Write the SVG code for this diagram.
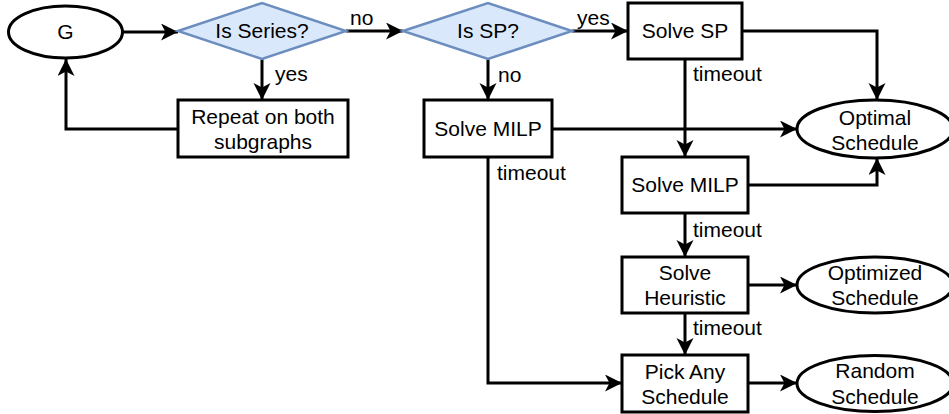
<svg xmlns="http://www.w3.org/2000/svg" width="949" height="414" viewBox="0 0 949 414">
<style>
text{font-family:"Liberation Sans",Arial,sans-serif;font-size:21px;fill:#000;}
.c{text-anchor:middle;}
.box{fill:#fff;stroke:#000;stroke-width:3;}
.dia{fill:#dae8fc;stroke:#6c8ebf;stroke-width:2.5;}
.ln{fill:none;stroke:#000;stroke-width:3;}
.arr{marker-end:url(#ah);}
</style>
<defs>
<marker id="ah" markerUnits="userSpaceOnUse" markerWidth="18" markerHeight="18" refX="17" refY="8.5" orient="auto" viewBox="0 0 18 18">
<path d="M0,0 L17,8.5 L0,17 L4.5,8.5 Z" fill="#000"/>
</marker>
</defs>
<rect width="949" height="414" fill="#fff"/>
<g id="connectors">
<path class="ln arr" d="M123,32 L178,32"/>
<path class="ln arr" d="M346,31 L403,31"/>
<text x="350" y="25">no</text>
<path class="ln arr" d="M262,59 L262,100"/>
<text x="275" y="81">yes</text>
<path class="ln arr" d="M178,129 L66,129 L66,59"/>
<path class="ln arr" d="M572,31 L628,31"/>
<text x="577" y="25">yes</text>
<path class="ln arr" d="M488,59 L488,100"/>
<text x="498" y="82">no</text>
<path class="ln arr" d="M552,129 L797,129"/>
<path class="ln arr" d="M742,31 L877,31 L877,100"/>
<path class="ln arr" d="M685,59 L685,157"/>
<text x="693" y="81">timeout</text>
<path class="ln arr" d="M748,185 L877,185 L877,158"/>
<path class="ln arr" d="M488,157 L488,383 L622,383"/>
<text x="497" y="180">timeout</text>
<path class="ln arr" d="M685,213 L685,257"/>
<text x="693" y="237">timeout</text>
<path class="ln arr" d="M748,285 L797,285"/>
<path class="ln arr" d="M685,313 L685,355"/>
<text x="693" y="335">timeout</text>
<path class="ln arr" d="M748,383 L797,383"/>
</g>
<g id="G"><ellipse class="box" cx="65.5" cy="32" rx="57" ry="26"/><text class="c" x="65.5" y="39">G</text></g>
<g id="isSeries"><polygon class="dia" points="178,31 262,3 346,31 262,59"/><text class="c" x="262" y="38">Is Series?</text></g>
<g id="repeat"><rect class="box" x="178" y="100" width="170" height="57"/><text class="c" x="263" y="124">Repeat on both</text><text class="c" x="263" y="149">subgraphs</text></g>
<g id="isSP"><polygon class="dia" points="403,31 488,3 572,31 488,59"/><text class="c" x="488" y="38">Is SP?</text></g>
<g id="solveSP"><rect class="box" x="628" y="3" width="114" height="56"/><text class="c" x="685" y="38">Solve SP</text></g>
<g id="solveMILP1"><rect class="box" x="424" y="100" width="128" height="57"/><text class="c" x="488" y="136">Solve MILP</text></g>
<g id="optimal"><ellipse class="box" cx="875" cy="129" rx="78" ry="29"/><text class="c" x="875" y="125">Optimal</text><text class="c" x="875" y="150">Schedule</text></g>
<g id="solveMILP2"><rect class="box" x="622" y="157" width="126" height="56"/><text class="c" x="685" y="192">Solve MILP</text></g>
<g id="heuristic"><rect class="box" x="622" y="257" width="126" height="56"/><text class="c" x="685" y="280">Solve</text><text class="c" x="685" y="305">Heuristic</text></g>
<g id="optimized"><ellipse class="box" cx="875" cy="285" rx="78" ry="28"/><text class="c" x="875" y="280">Optimized</text><text class="c" x="875" y="305">Schedule</text></g>
<g id="pickAny"><rect class="box" x="622" y="355" width="126" height="57"/><text class="c" x="685" y="379">Pick Any</text><text class="c" x="685" y="404">Schedule</text></g>
<g id="random"><ellipse class="box" cx="875" cy="383.5" rx="78" ry="28"/><text class="c" x="875" y="378">Random</text><text class="c" x="875" y="404">Schedule</text></g>
</svg>
